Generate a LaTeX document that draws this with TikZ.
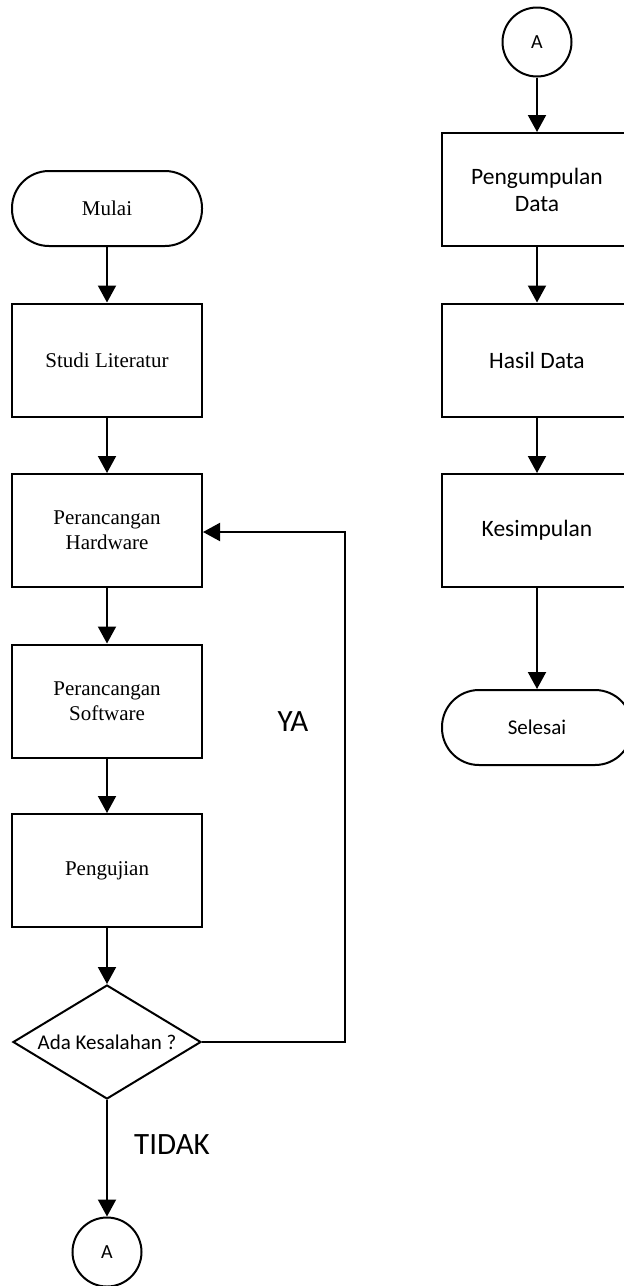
\documentclass[tikz,border=0pt]{standalone}
\usepackage{fontspec}
\setmainfont{Liberation Serif}
\newfontfamily\calibri{Carlito}
\usepackage{tikz}
\usetikzlibrary{shapes.geometric, arrows.meta}

\tikzset{
    terminal/.style={draw, rectangle, rounded corners=37pt, minimum width=190pt, minimum height=75pt},
    prosesbox/.style={draw, rectangle, minimum width=190pt, minimum height=113pt, align=center},
    keputusan/.style={draw, diamond, aspect=1.65, inner sep=0pt, minimum width=188pt, minimum height=114pt},
    konektor/.style={draw, circle, minimum size=69pt, inner sep=0pt},
    panah/.style={-{Triangle[length=17pt,width=18pt]}},
    serif/.style={font=\fontsize{21}{25}\selectfont},
    sans/.style={font=\calibri\fontsize{23.5}{27}\selectfont}
}

\begin{document}
\begin{tikzpicture}[x=1pt, y=1pt, line width=2pt]
        \clip (0, 0) rectangle (624, -1286);

        \node[terminal, serif] (mulai) at (107, -208.5) {Mulai};
        \node[prosesbox, serif] (studi) at (107, -360) {Studi Literatur};
        \node[prosesbox, serif] (hw) at (107, -530.5) {Perancangan\\Hardware};
        \node[prosesbox, serif] (sw) at (107, -701) {Perancangan\\Software};
        \node[prosesbox, serif] (uji) at (107, -870.5) {Pengujian};
        \node[keputusan, font=\calibri\fontsize{21}{25}\selectfont] (cek) at (107, -1042) {Ada Kesalahan ?};
        \node[konektor, font=\calibri\fontsize{20}{24}\selectfont] (a1) at (107, -1252) {A};
        \node[font=\calibri\fontsize{31}{36}\selectfont] (ya) at (293, -722) {YA};
        \node[font=\calibri\fontsize{31}{36}\selectfont] (tidak) at (172, -1145) {TIDAK};
        \coordinate (belok1) at (345, -1042);
        \coordinate (belok2) at (345, -532);

        \node[konektor, font=\calibri\fontsize{20}{24}\selectfont] (a2) at (537, -42) {A};
        \node[prosesbox, sans] (kumpul) at (537, -189.5) {Pengumpulan\\Data};
        \node[prosesbox, sans] (hasil) at (537, -360) {Hasil Data};
        \node[prosesbox, sans] (simpul) at (537, -530.5) {Kesimpulan};
        \node[terminal, font=\calibri\fontsize{21}{25}\selectfont] (selesai) at (537, -727.5) {Selesai};

        \draw[panah] (mulai) -- (studi);
        \draw[panah] (studi) -- (hw);
        \draw[panah] (hw) -- (sw);
        \draw[panah] (sw) -- (uji);
        \draw[panah] (uji) -- (cek);
        \draw[panah] (cek) -- (a1);
        \draw[panah] (cek.east) -- (belok1) -- (belok2) -- (hw.east |- belok2);

        \draw[panah] (a2) -- (kumpul);
        \draw[panah] (kumpul) -- (hasil);
        \draw[panah] (hasil) -- (simpul);
        \draw[panah] (simpul) -- (selesai);
    \end{tikzpicture}
\end{document}
